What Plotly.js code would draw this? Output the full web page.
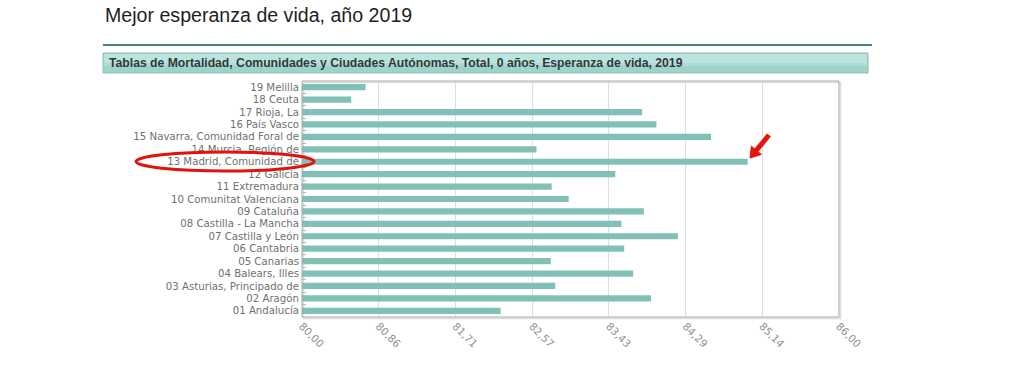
<!DOCTYPE html>
<html>
<head>
<meta charset="utf-8">
<script src="https://cdn.plot.ly/plotly-3.0.1.min.js"></script>
<style>html,body{margin:0;padding:0;background:#fff;}#chart{width:1024px;height:384px;}</style>
</head>
<body>
<div id="chart"></div>
<script>
// Data (bottom to top, as drawn by a categorical y axis)
const categories = [
  "01 Andalucía", "02 Aragón", "03 Asturias, Principado de", "04 Balears, Illes",
  "05 Canarias", "06 Cantabria", "07 Castilla y León", "08 Castilla - La Mancha",
  "09 Cataluña", "10 Comunitat Valenciana", "11 Extremadura", "12 Galicia",
  "13 Madrid, Comunidad de", "14 Murcia, Región de", "15 Navarra, Comunidad Foral de",
  "16 País Vasco", "17 Rioja, La", "18 Ceuta", "19 Melilla"
];
const lifeExpectancy = [
  82.22, 83.90, 82.83, 83.70,
  82.78, 83.60, 84.20, 83.57,
  83.82, 82.98, 82.79, 83.50,
  84.98, 82.62, 84.57,
  83.96, 83.80, 80.55, 80.71
];
const xTickVals = [80, 80.857, 81.714, 82.571, 83.429, 84.286, 85.143, 86];
const xTickText = ["80,00", "80,86", "81,71", "82,57", "83,43", "84,29", "85,14", "86,00"];

// plot area in pixels
const W = 1024, H = 384;
const L = 302, R = 839, T = 81, B = 317;
const px = v => (v - L) / (R - L);
const py = v => (B - v) / (B - T);

const trace = {
  type: 'bar',
  orientation: 'h',
  y: categories,
  x: lifeExpectancy,
  marker: { color: '#80c0b7' },
  hoverinfo: 'x+y'
};

// red pointer arrow (pixel geometry)
const tip = [750, 158], tail = [769, 135];
const dx = tip[0] - tail[0], dy = tip[1] - tail[1];
const len = Math.hypot(dx, dy);
const ux = dx / len, uy = dy / len;
const headLen = 10, headHalf = 6.5;
const bx = tip[0] - headLen * ux, by = tip[1] - headLen * uy;
const p1 = [bx + headHalf * -uy, by + headHalf * ux];
const p2 = [bx - headHalf * -uy, by - headHalf * ux];
const P = p => px(p[0]) + ',' + py(p[1]);

const shapes = [
  // dark rule above banner
  { type: 'line', xref: 'paper', yref: 'paper', x0: px(103), x1: px(872), y0: py(45), y1: py(45),
    line: { color: '#4a8479', width: 2 } },
  // banner (gradient approximated)
  { type: 'rect', xref: 'paper', yref: 'paper', x0: px(103), x1: px(868), y0: py(73), y1: py(53),
    fillcolor: '#9fd2cb', line: { color: '#8cc2ba', width: 1 } },
  { type: 'rect', xref: 'paper', yref: 'paper', x0: px(104), x1: px(867), y0: py(63), y1: py(54),
    fillcolor: '#bde3de', line: { width: 0 } },
  { type: 'rect', xref: 'paper', yref: 'paper', x0: px(104), x1: px(867), y0: py(66), y1: py(63),
    fillcolor: '#aedbd5', line: { width: 0 } },
  // plot box shadow and border
  { type: 'rect', xref: 'paper', yref: 'paper', x0: px(L + 1.5), x1: px(R + 1.5), y0: py(B + 1.5), y1: py(T + 1.5),
    line: { color: '#dcdcdc', width: 1.5 }, layer: 'below' },
  { type: 'rect', xref: 'paper', yref: 'paper', x0: 0, x1: 1, y0: 0, y1: 1,
    line: { color: '#a8a8a8', width: 1 } },
  // red ellipse around highlighted label
  { type: 'circle', xref: 'paper', yref: 'paper', x0: px(136), x1: px(314), y0: py(171), y1: py(152),
    line: { color: '#e3120b', width: 3 } },
  // arrow shaft and head
  { type: 'line', xref: 'paper', yref: 'paper', x0: px(tail[0]), y0: py(tail[1]), x1: px(bx + 1.5 * ux), y1: py(by + 1.5 * uy),
    line: { color: '#e8150d', width: 5 } },
  { type: 'path', xref: 'paper', yref: 'paper',
    path: 'M' + P(tip) + ' L' + P(p1) + ' L' + P(p2) + ' Z',
    fillcolor: '#e8150d', line: { color: '#e8150d', width: 1 } }
];

const layout = {
  width: W, height: H,
  margin: { l: L, r: W - R, t: T, b: H - B, pad: 0 },
  paper_bgcolor: '#ffffff',
  plot_bgcolor: '#ffffff',
  showlegend: false,
  bargap: 0.5,
  title: {
    text: 'Mejor esperanza de vida, año 2019',
    x: 105 / W, xref: 'container', xanchor: 'left',
    y: 1 - 15 / H, yref: 'container', yanchor: 'middle',
    font: { family: 'Liberation Sans, Arial, sans-serif', size: 19.6, color: '#1e1e1e' }
  },
  xaxis: {
    range: [80, 86],
    tickvals: xTickVals,
    ticktext: xTickText,
    tickangle: 45,
    showgrid: true,
    gridcolor: '#dedede',
    gridwidth: 1,
    zeroline: false,
    showline: false,
    ticks: '',
    tickfont: { family: 'DejaVu Sans, Verdana, sans-serif', size: 10.5, color: '#909090' },
    fixedrange: true
  },
  yaxis: {
    type: 'category',
    categoryorder: 'array',
    categoryarray: categories,
    showgrid: false,
    zeroline: false,
    showline: false,
    ticks: 'inside',
    tickson: 'boundaries',
    ticklen: 4,
    tickcolor: '#bbbbbb',
    ticklabelstandoff: 2,
    tickfont: { family: 'DejaVu Sans, Verdana, sans-serif', size: 10.2, color: '#707070' },
    fixedrange: true
  },
  shapes: shapes,
  annotations: [
    {
      text: '<b>Tablas de Mortalidad, Comunidades y Ciudades Autónomas, Total, 0 años, Esperanza de vida, 2019</b>',
      xref: 'paper', yref: 'paper', x: px(107), y: py(63), xanchor: 'left', yanchor: 'middle',
      showarrow: false,
      font: { family: 'Liberation Sans, Arial, sans-serif', size: 12.2, color: '#2e3a38' }
    }
  ]
};

Plotly.newPlot('chart', [trace], layout, { displayModeBar: false, staticPlot: true });
</script>
</body>
</html>
